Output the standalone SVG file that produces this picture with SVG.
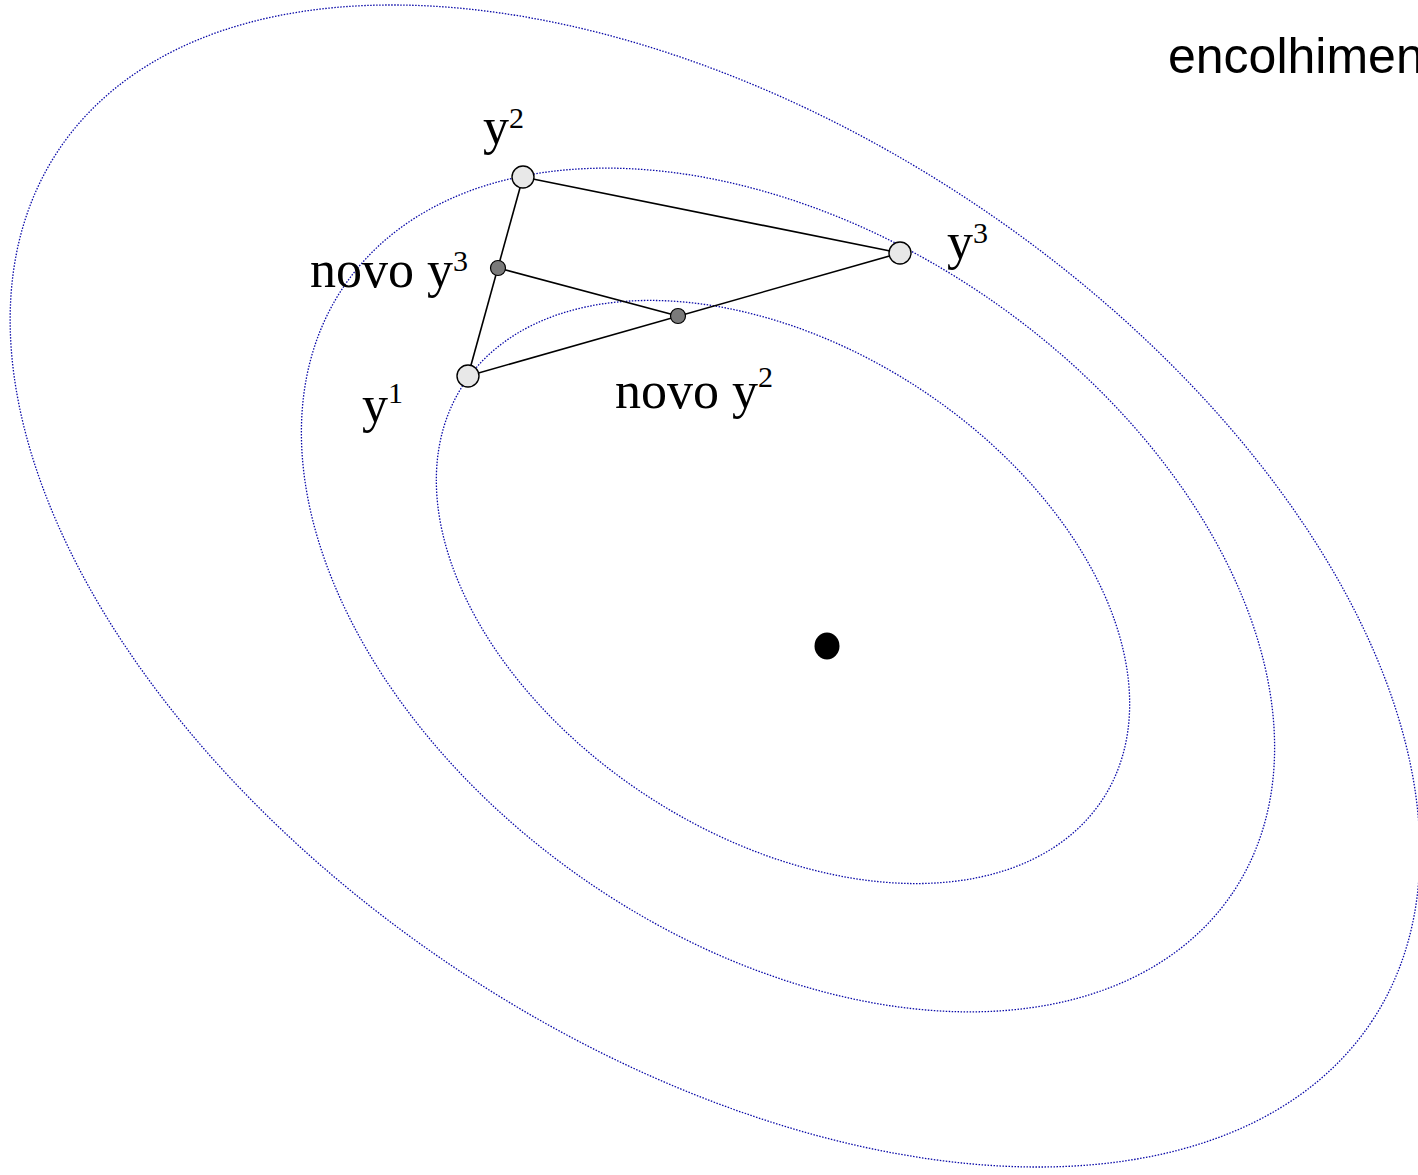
<svg xmlns="http://www.w3.org/2000/svg" width="1418" height="1175" viewBox="0 0 1418 1175">
<style>
.contour{fill:none;stroke:#0a0aa8;stroke-width:1.3;stroke-dasharray:1.5 1.5}
.edge{stroke:#000;stroke-width:1.6;fill:none}
.vtx{fill:#e8e8e8;stroke:#000;stroke-width:1.4}
.newv{fill:#7a7a7a;stroke:#000;stroke-width:1.2}
.lbl{font-family:"Liberation Serif","Times New Roman",serif;font-size:52px;fill:#000}
.sup{font-size:30px}
.title{font-family:"Liberation Sans",Arial,sans-serif;font-size:50px;fill:#000}
</style>
<rect width="1418" height="1175" fill="#fff"/>
<g id="contours">
<ellipse class="contour" cx="715" cy="586" rx="788" ry="462" transform="rotate(33.5 715 586)"/>
<ellipse class="contour" cx="788" cy="590" rx="538" ry="354" transform="rotate(34.5 788 590)"/>
<ellipse class="contour" cx="783" cy="592" rx="381" ry="245" transform="rotate(32.8 783 592)"/>
</g>
<g id="connectors">
<line class="edge" x1="523" y1="177" x2="900" y2="253"/>
<line class="edge" x1="523" y1="177" x2="468" y2="376"/>
<line class="edge" x1="468" y1="376" x2="900" y2="253"/>
<line class="edge" x1="498" y1="268" x2="678" y2="316"/>
</g>
<g id="optimum"><ellipse cx="827" cy="646" rx="12.5" ry="13.5" fill="#000"/></g>
<g id="y2"><circle class="vtx" cx="523" cy="177" r="11"/><text class="lbl" x="483" y="144">y<tspan class="sup" dy="-16">2</tspan></text></g>
<g id="y3"><circle class="vtx" cx="900" cy="253" r="11"/><text class="lbl" x="947" y="259">y<tspan class="sup" dy="-16">3</tspan></text></g>
<g id="y1"><circle class="vtx" cx="468" cy="376" r="11"/><text class="lbl" x="362" y="422">y<tspan class="sup" dy="-19">1</tspan></text></g>
<g id="novo-y3"><circle class="newv" cx="498" cy="268" r="7.5"/><text class="lbl" x="310" y="287">novo y<tspan class="sup" dy="-16">3</tspan></text></g>
<g id="novo-y2"><circle class="newv" cx="678" cy="316" r="7.5"/><text class="lbl" x="615" y="408">novo y<tspan class="sup" dy="-21">2</tspan></text></g>
<g id="title"><text class="title" x="1168" y="73">encolhimento</text></g>
</svg>
